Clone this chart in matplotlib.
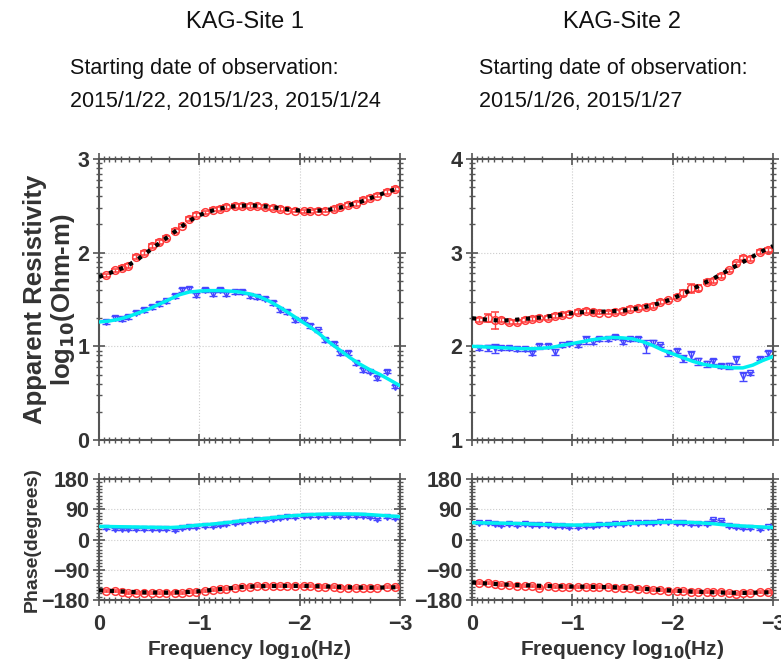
import numpy as np
import matplotlib
matplotlib.use("Agg")
import matplotlib.pyplot as plt
from matplotlib.ticker import FixedLocator

# ---------------- data ----------------
# observed log10 frequency (Hz)
freq_obs = [-0.07, -0.16, -0.23, -0.29, -0.37, -0.45, -0.53, -0.60, -0.67, -0.76,
            -0.83, -0.90, -0.97, -1.06, -1.14, -1.21, -1.27, -1.36, -1.43, -1.50,
            -1.57, -1.65, -1.73, -1.80, -1.87, -1.95, -2.04, -2.10, -2.18, -2.25,
            -2.34, -2.40, -2.48, -2.56, -2.63, -2.70, -2.77, -2.87, -2.95]
# model log10 frequency
freq_mod = [0.0, -0.1, -0.2, -0.3, -0.4, -0.5, -0.6, -0.7, -0.8, -0.9, -1.0,
            -1.1, -1.2, -1.3, -1.4, -1.5, -1.6, -1.7, -1.8, -1.9, -2.0,
            -2.1, -2.2, -2.3, -2.4, -2.5, -2.6, -2.7, -2.8, -2.9, -3.0]

# Site 1 apparent resistivity (log10 Ohm-m)
s1_rho_red = [1.757, 1.81, 1.835, 1.86, 1.95, 2.00, 2.07, 2.11, 2.16, 2.23,
              2.29, 2.36, 2.40, 2.43, 2.46, 2.47, 2.485, 2.50, 2.50, 2.50,
              2.50, 2.485, 2.48, 2.47, 2.46, 2.45, 2.44, 2.44, 2.45, 2.45,
              2.47, 2.49, 2.51, 2.52, 2.56, 2.58, 2.61, 2.645, 2.68]
s1_rho_blue = [1.26, 1.30, 1.29, 1.31, 1.36, 1.39, 1.42, 1.45, 1.48, 1.54,
               1.60, 1.61, 1.55, 1.60, 1.56, 1.60, 1.56, 1.58, 1.58, 1.54,
               1.53, 1.51, 1.46, 1.39, 1.37, 1.28, 1.28, 1.22, 1.17, 1.065,
               1.03, 0.93, 0.93, 0.82, 0.75, 0.73, 0.66, 0.73, 0.57]
s1_rho_red_mod = [1.74, 1.78, 1.82, 1.87, 1.94, 2.02, 2.10, 2.18, 2.26, 2.34, 2.40,
                  2.44, 2.47, 2.49, 2.50, 2.505, 2.50, 2.49, 2.475, 2.46, 2.45,
                  2.445, 2.45, 2.46, 2.48, 2.51, 2.54, 2.58, 2.62, 2.66, 2.69]
s1_rho_blue_mod = [1.26, 1.27, 1.29, 1.32, 1.36, 1.40, 1.45, 1.50, 1.55, 1.58, 1.59,
                   1.595, 1.595, 1.59, 1.58, 1.56, 1.53, 1.48, 1.42, 1.35, 1.28,
                   1.21, 1.13, 1.04, 0.96, 0.88, 0.81, 0.75, 0.70, 0.64, 0.58]

# Site 2 apparent resistivity
s2_rho_red = [2.28, 2.30, 2.28, 2.28, 2.26, 2.26, 2.28, 2.29, 2.30, 2.30,
              2.32, 2.335, 2.35, 2.37, 2.38, 2.37, 2.36, 2.36, 2.37, 2.38,
              2.40, 2.41, 2.42, 2.43, 2.47, 2.49, 2.53, 2.57, 2.62, 2.62,
              2.69, 2.70, 2.75, 2.81, 2.885, 2.94, 2.93, 3.01, 3.03]
s2_rho_red_err = [0.02, 0.04, 0.09, 0.02, 0.02, 0.02, 0.02, 0.02, 0.02, 0.02,
                  0.02, 0.02, 0.02, 0.02, 0.02, 0.02, 0.02, 0.02, 0.02, 0.02,
                  0.02, 0.02, 0.02, 0.02, 0.02, 0.02, 0.02, 0.03, 0.05, 0.03,
                  0.02, 0.02, 0.02, 0.02, 0.02, 0.02, 0.02, 0.02, 0.02]
s2_rho_blue = [1.98, 1.98, 1.98, 1.98, 1.98, 1.97, 1.97, 1.93, 2.00, 2.00,
               1.94, 2.01, 2.03, 2.01, 2.07, 2.05, 2.08, 2.08, 2.10, 2.05,
               2.08, 2.08, 2.00, 2.04, 2.01, 1.925, 1.95, 1.87, 1.91, 1.84,
               1.81, 1.84, 1.79, 1.79, 1.855, 1.68, 1.71, 1.87, 1.925]
s2_rho_blue_err = [0.02, 0.03, 0.05, 0.02, 0.02, 0.02, 0.02, 0.02, 0.03, 0.02,
                   0.03, 0.02, 0.02, 0.02, 0.04, 0.03, 0.02, 0.02, 0.02, 0.02,
                   0.02, 0.02, 0.07, 0.03, 0.02, 0.03, 0.02, 0.04, 0.04, 0.04,
                   0.03, 0.03, 0.02, 0.03, 0.04, 0.05, 0.02, 0.02, 0.03]
s2_rho_red_mod = [2.30, 2.29, 2.28, 2.275, 2.28, 2.29, 2.30, 2.31, 2.325, 2.34, 2.355,
                  2.365, 2.37, 2.37, 2.375, 2.38, 2.395, 2.415, 2.44, 2.47, 2.51,
                  2.56, 2.61, 2.67, 2.72, 2.78, 2.84, 2.90, 2.96, 3.02, 3.07]
s2_rho_blue_mod = [2.00, 1.995, 1.99, 1.985, 1.98, 1.975, 1.975, 1.98, 1.99, 2.01, 2.03,
                   2.05, 2.07, 2.085, 2.095, 2.09, 2.08, 2.05, 2.01, 1.96, 1.92,
                   1.88, 1.84, 1.81, 1.79, 1.78, 1.77, 1.77, 1.80, 1.85, 1.89]

# Site 1 phase (degrees)
s1_ph_blue = [33, 32, 31, 31, 30, 31, 31, 32, 32, 28,
              35, 36, 38, 39, 41, 44, 47, 50, 53, 55,
              57, 59, 60, 63, 66, 68, 70, 70, 70, 70,
              70, 71, 71, 71, 70, 68, 62, 66, 64]
s1_ph_red = [-152, -154, -155, -158, -160, -159, -160, -160, -159, -159,
             -158, -157, -156, -153, -150, -147, -146, -143, -141, -140,
             -139, -138, -137, -137, -137, -138, -138, -139, -140, -141,
             -141, -143, -143, -145, -144, -144, -143, -142, -141]
s1_ph_blue_mod = [39, 38.5, 38, 37.5, 37, 36.5, 36, 35.5, 37, 40, 43,
                  45, 48, 51, 55, 58, 61, 64, 67, 70, 72,
                  74, 75, 76, 76, 76, 75.5, 74, 72, 70, 68]
s1_ph_red_mod = [-151, -152.5, -154, -155.5, -157, -157.5, -158, -158, -157, -156, -154,
                 -151, -148, -145, -142, -140, -139, -138.5, -138, -138, -138,
                 -138.5, -139, -140, -141, -142, -143, -143, -143, -142.5, -142]

# Site 2 phase
s2_ph_blue = [48, 49, 45, 44, 45, 43, 45, 44, 43, 42,
              41, 40, 38, 38, 40, 40, 42, 43, 45, 46,
              48, 50, 50, 50, 51, 51, 50, 48, 47, 45,
              45, 58, 54, 40, 36, 34, 34, 30, 38]
s2_ph_red = [-128, -130, -132, -134, -136, -137, -137, -139, -143, -139,
             -140, -140, -140, -141, -141, -141, -142, -142, -143, -143,
             -144, -146, -148, -149, -150, -152, -153, -154, -156, -156,
             -157, -157, -157, -160, -161, -159, -158, -157, -156]
s2_ph_blue_mod = [50, 49.5, 49, 48.5, 48, 47, 46, 45, 44, 43.5, 43,
                  43, 44, 45, 46, 47, 48.5, 50, 51, 51.5, 52,
                  51.5, 50.5, 49, 47, 44, 42, 40, 38.5, 37, 36]
s2_ph_red_mod = [-128, -130, -132, -133.5, -135, -136, -137, -138, -139, -139.5, -140,
                 -140.5, -141, -141.5, -142, -143, -144.5, -146.5, -148.5, -150, -152,
                 -153.5, -155, -156, -157, -158, -158.5, -159, -158.5, -157.5, -157]

rho_err = 0.02
ph_err = 3

titles = ["KAG-Site 1", "KAG-Site 2"]
subtitles = ["Starting date of observation:\n2015/1/22, 2015/1/23, 2015/1/24",
             "Starting date of observation:\n2015/1/26, 2015/1/27"]

# ---------------- style ----------------
RED = "#ff3b3b"
BLUE = "#4646ff"
CYAN = "#00f0f0"
SPINE = "#555555"
TXT = "#333333"
plt.rcParams['font.family'] = ['Liberation Sans', 'DejaVu Sans']
TFONT = ['Liberation Sans Narrow', 'Liberation Sans', 'DejaVu Sans']

fig = plt.figure(figsize=(7.81, 6.71), dpi=100)

W = 301 / 781
axes_top = [fig.add_axes([99 / 781, 1 - 440 / 671, W, 281 / 671]),
            fig.add_axes([472 / 781, 1 - 440 / 671, W, 281 / 671])]
axes_bot = [fig.add_axes([99 / 781, 1 - 600 / 671, W, 121 / 671]),
            fig.add_axes([472 / 781, 1 - 600 / 671, W, 121 / 671])]

xminor = [-(d + 1 - np.log10(k)) for d in range(3) for k in range(2, 10)]


def style(ax, ylim, yticks, yminor):
    ax.set_xlim(0, -3)
    ax.set_ylim(*ylim)
    ax.set_xticks([0, -1, -2, -3])
    ax.xaxis.set_minor_locator(FixedLocator(xminor))
    ax.set_yticks(yticks)
    ax.yaxis.set_minor_locator(FixedLocator(yminor))
    ax.tick_params(which='both', direction='inout', top=True, right=True,
                   color=SPINE, labelsize=15.5)
    ax.tick_params(which='major', length=8, width=1.2)
    ax.tick_params(which='minor', length=4, width=1)
    ax.tick_params(axis='x', pad=6)
    ax.tick_params(axis='y', pad=3)
    for lab in ax.get_xticklabels() + ax.get_yticklabels():
        lab.set_fontweight('bold')
        lab.set_color(TXT)
    for s in ax.spines.values():
        s.set_color(SPINE)
        s.set_linewidth(1.5)
    ax.grid(True, which='major', color='#cccccc', linestyle=':', linewidth=0.8)
    ax.set_axisbelow(True)


def draw(ax, xr, yr, er, xb, yb, eb, yrm, ybm):
    ax.errorbar(xr, yr, yerr=er, fmt='o', ms=5.5, mfc='none', mec=RED, mew=1.1,
                ecolor=RED, elinewidth=1, capsize=3, zorder=3)
    ax.errorbar(xb, yb, yerr=eb, fmt='v', ms=4.5, mfc='none', mec=BLUE, mew=1.0,
                ecolor=BLUE, elinewidth=1, capsize=3, zorder=3)
    ax.plot(freq_mod, yrm, color='black', linestyle=(0, (1, 1.6)), linewidth=3, zorder=4)
    ax.plot(freq_mod, ybm, color=CYAN, linestyle='-', linewidth=2.5, zorder=4)


rho_minor1 = [n + np.log10(k) for n in range(0, 3) for k in range(2, 10)]
rho_minor2 = [n + np.log10(k) for n in range(1, 4) for k in range(2, 10)]
ph_minor = list(range(-180, 181, 10))

# Site 1 rho
draw(axes_top[0], freq_obs, s1_rho_red, rho_err, freq_obs, s1_rho_blue, rho_err,
     s1_rho_red_mod, s1_rho_blue_mod)
style(axes_top[0], (0, 3), [0, 1, 2, 3], rho_minor1)
# Site 2 rho
draw(axes_top[1], freq_obs, s2_rho_red, s2_rho_red_err, freq_obs, s2_rho_blue,
     s2_rho_blue_err, s2_rho_red_mod, s2_rho_blue_mod)
style(axes_top[1], (1, 4), [1, 2, 3, 4], rho_minor2)
# Phases
draw(axes_bot[0], freq_obs, s1_ph_red, ph_err, freq_obs, s1_ph_blue, ph_err,
     s1_ph_red_mod, s1_ph_blue_mod)
style(axes_bot[0], (-180, 180), [-180, -90, 0, 90, 180], ph_minor)
draw(axes_bot[1], freq_obs, s2_ph_red, ph_err, freq_obs, s2_ph_blue, ph_err,
     s2_ph_red_mod, s2_ph_blue_mod)
style(axes_bot[1], (-180, 180), [-180, -90, 0, 90, 180], ph_minor)

for ax in axes_top:
    ax.set_xticklabels([])

axes_top[0].set_ylabel("Apparent Resistivity\nlog$_{\\mathbf{10}}$(Ohm-m)",
                       fontsize=18.5, fontweight='bold', color=TXT,
                       linespacing=1.12, labelpad=0)
axes_bot[0].set_ylabel("Phase(degrees)", fontsize=14, fontweight='bold',
                       color=TXT, labelpad=0)
for ax in axes_bot:
    ax.set_xlabel("Frequency log$_{\\mathbf{10}}$(Hz)", fontsize=15,
                  fontweight='bold', color=TXT, labelpad=2)

# titles
fig.text(245 / 781, 1 - 22 / 671, titles[0], ha='center', va='center',
         fontsize=17, family=TFONT, color='#111111')
fig.text(622 / 781, 1 - 22 / 671, titles[1], ha='center', va='center',
         fontsize=17, family=TFONT, color='#111111')
fig.text(70 / 781, 1 - 85 / 671, subtitles[0], ha='left', va='center',
         fontsize=15.5, family=TFONT, color='#111111', linespacing=1.7)
fig.text(479 / 781, 1 - 85 / 671, subtitles[1], ha='left', va='center',
         fontsize=15.5, family=TFONT, color='#111111', linespacing=1.7)

fig.savefig("out.png", dpi=100)
